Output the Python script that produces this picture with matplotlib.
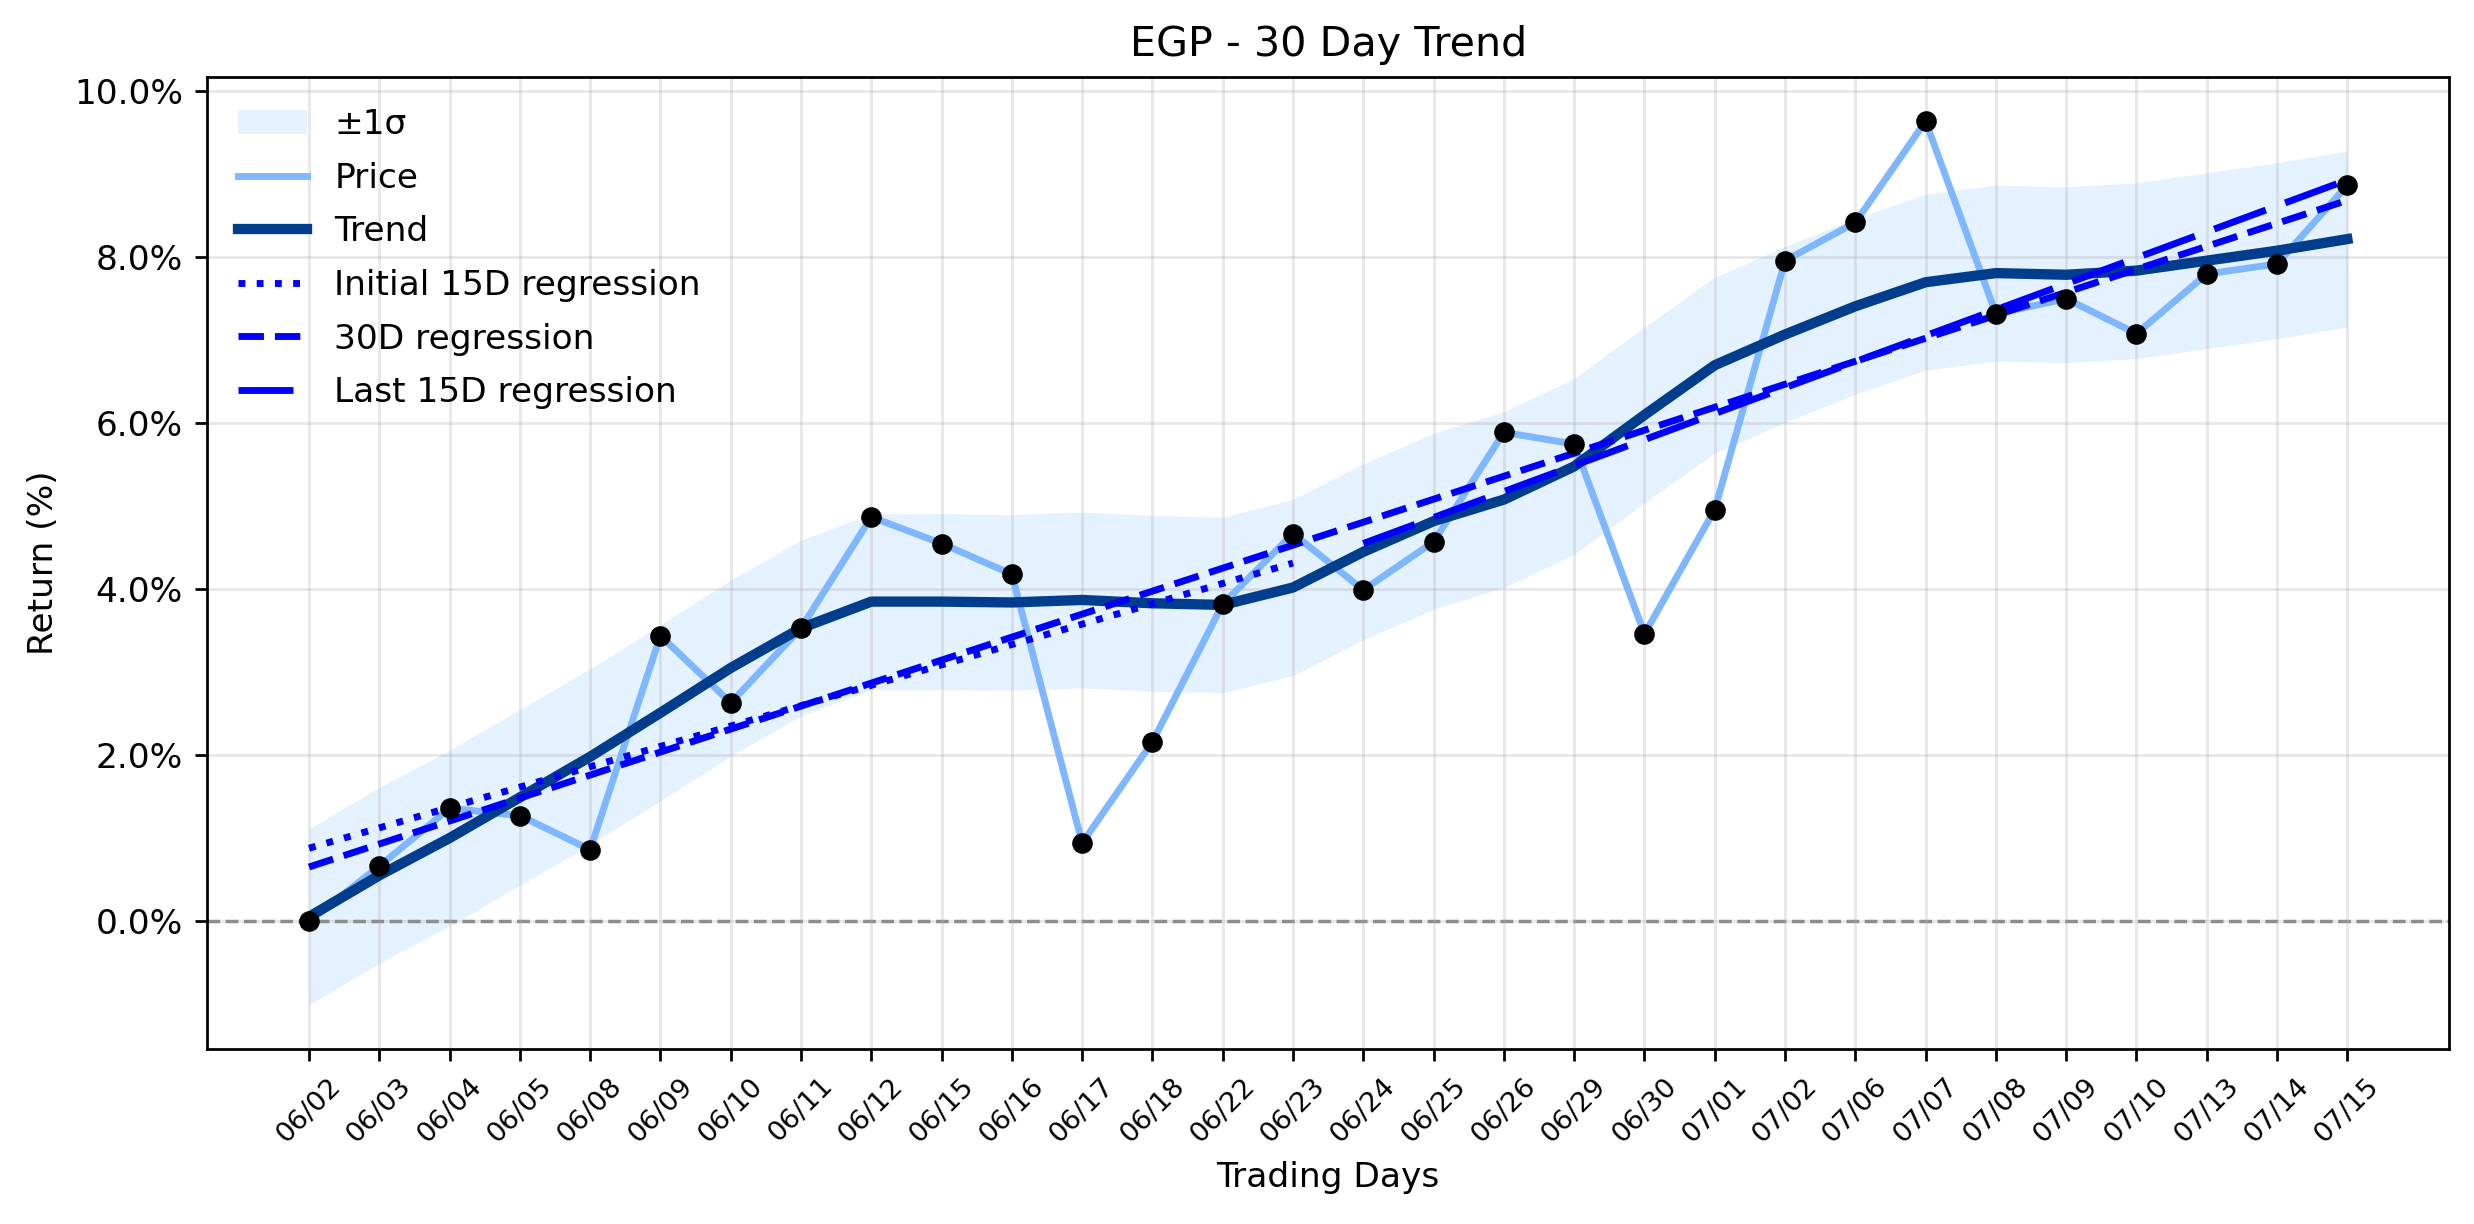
import numpy as np
import matplotlib
matplotlib.use("Agg")
import matplotlib.pyplot as plt
from matplotlib.ticker import FuncFormatter

dates = ["06/02", "06/03", "06/04", "06/05", "06/08", "06/09", "06/10", "06/11",
         "06/12", "06/15", "06/16", "06/17", "06/18", "06/22", "06/23", "06/24",
         "06/25", "06/26", "06/29", "06/30", "07/01", "07/02", "07/06", "07/07",
         "07/08", "07/09", "07/10", "07/13", "07/14", "07/15"]

price = [0.00, 0.66, 1.36, 1.27, 0.86, 3.44, 2.63, 3.53, 4.87, 4.55,
         4.18, 0.94, 2.16, 3.82, 4.67, 3.99, 4.57, 5.89, 5.75, 3.46,
         4.96, 7.96, 8.42, 9.64, 7.32, 7.50, 7.08, 7.80, 7.92, 8.87]

trend = [0.05, 0.55, 1.00, 1.49, 1.98, 2.51, 3.05, 3.53, 3.85, 3.85,
         3.84, 3.87, 3.83, 3.81, 4.02, 4.45, 4.82, 5.08, 5.48, 6.10,
         6.70, 7.07, 7.41, 7.70, 7.81, 7.79, 7.84, 7.96, 8.08, 8.22]

sigma = 1.06

x = np.arange(len(dates))
p = np.array(price)
t = np.array(trend)

DPI = 247.4
fig = plt.figure(figsize=(2474 / DPI, 1224 / DPI), dpi=DPI)
ax = fig.add_axes([0.0837, 0.143, 0.9063, 0.794])

ax.fill_between(x, t - sigma, t + sigma, color="#4da3ff", alpha=0.15,
                linewidth=0, label="±1σ", zorder=1)
ax.plot(x, p, color="#7eb6ff", linewidth=2, label="Price", zorder=2)
ax.plot(x, t, color="#003d8c", linewidth=3, label="Trend", zorder=3)

# regressions computed from the price data
x1 = x[:15]
c1 = np.polyfit(x1, p[:15], 1)
ax.plot(x1, np.polyval(c1, x1), color="blue", linestyle=":", linewidth=2,
        label="Initial 15D regression", zorder=4)
c2 = np.polyfit(x, p, 1)
ax.plot(x, np.polyval(c2, x), color="blue", linestyle="--", linewidth=2,
        label="30D regression", zorder=4)
x3 = x[15:]
c3 = np.polyfit(x3, p[15:], 1)
ax.plot(x3, np.polyval(c3, x3), color="blue", linestyle=(0, (8, 3)), linewidth=2,
        label="Last 15D regression", zorder=4)

ax.plot(x, p, linestyle="none", marker="o", markersize=5, color="black", zorder=5)

ax.axhline(0, color="gray", linestyle="--", linewidth=1, zorder=1.5)

ax.set_xticks(x)
ax.set_xticklabels(dates, rotation=45, fontsize=8)
ax.yaxis.set_major_formatter(FuncFormatter(lambda v, pos: f"{v:.1f}%"))
ax.grid(True, alpha=0.3)
ax.set_title("EGP - 30 Day Trend", fontsize=12)
ax.set_xlabel("Trading Days")
ax.set_ylabel("Return (%)")
ax.legend(loc="upper left", frameon=False, fontsize=10, labelspacing=0.6)

fig.savefig("out.png", dpi=DPI)
